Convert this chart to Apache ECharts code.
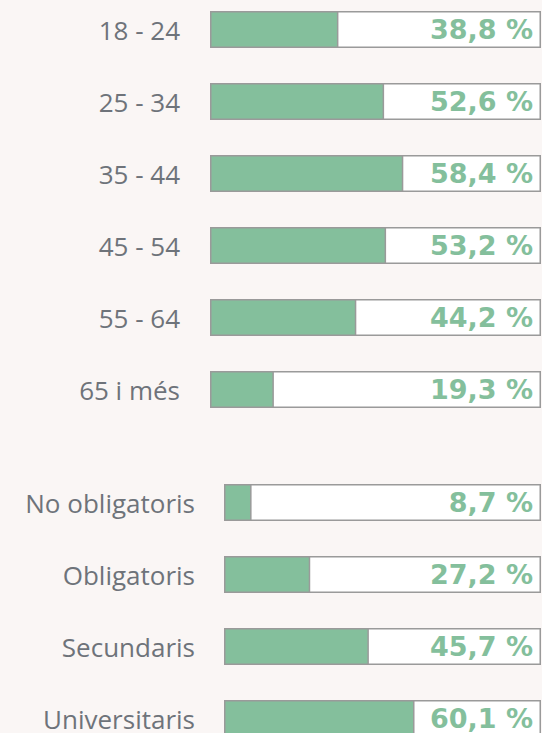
<!DOCTYPE html>
<html>
<head>
<meta charset="utf-8">
<script src="https://cdn.jsdelivr.net/npm/echarts@6/dist/echarts.min.js"></script>
<style>
  html, body { margin: 0; padding: 0; background: #faf6f5; }
  #chart { width: 542px; height: 733px; }
</style>
</head>
<body>
<div id="chart"></div>
<script>
var ageLabels = ['18 - 24', '25 - 34', '35 - 44', '45 - 54', '55 - 64', '65 i més'];
var ageValues = [38.8, 52.6, 58.4, 53.2, 44.2, 19.3];
var eduLabels = ['No obligatoris', 'Obligatoris', 'Secundaris', 'Universitaris'];
var eduValues = [8.7, 27.2, 45.7, 60.1];

(function() {
  var green = '#84bf9c';
  var border = '#9a9a9a';
  var labelGray = '#6e737a';
  var font = '"Open Sans", sans-serif';

  function fmt(v) { return v.toFixed(1).replace('.', ',') + ' %'; }

  function full(arr) { return arr.map(function() { return 100; }); }

  // boundaryGap false so the first and last rows sit on the grid edges
  function yAxis(idx, cats, margin) {
    return {
      type: 'category', gridIndex: idx, data: cats, inverse: true, boundaryGap: false,
      axisLine: { show: false }, axisTick: { show: false }, splitLine: { show: false },
      axisLabel: { color: labelGray, fontSize: 26, lineHeight: 26, fontFamily: font, margin: margin }
    };
  }
  function xAxis(idx) {
    return { type: 'value', gridIndex: idx, min: 0, max: 100, show: false };
  }
  function series(idx, values) {
    return [{
      type: 'bar', xAxisIndex: idx, yAxisIndex: idx, clip: false,
      data: full(values), barWidth: 37, barGap: '-100%', silent: true, z: 2,
      itemStyle: { color: '#ffffff', borderColor: border, borderWidth: 1.5 },
      label: {
        show: true, position: 'insideRight', distance: 8,
        color: green, fontSize: 27, fontWeight: 'bold', fontFamily: '"DejaVu Sans", sans-serif',
        formatter: function(p) { return fmt(values[p.dataIndex]); }
      }
    }, {
      type: 'bar', xAxisIndex: idx, yAxisIndex: idx, clip: false,
      data: values, barWidth: 37, barGap: '-100%', z: 3,
      itemStyle: { color: green, borderColor: border, borderWidth: 1.5 }
    }];
  }

  var chart = echarts.init(document.getElementById('chart'), null, { renderer: 'svg' });
  chart.setOption({
    animation: false,
    backgroundColor: '#faf6f5',
    grid: [
      { left: 210, width: 331, top: 29.5, height: 360 },
      { left: 224, width: 317, top: 502.5, height: 216 }
    ],
    xAxis: [xAxis(0), xAxis(1)],
    yAxis: [yAxis(0, ageLabels, 30), yAxis(1, eduLabels, 29)],
    series: series(0, ageValues).concat(series(1, eduValues))
  });

  window.addEventListener('resize', function() { chart.resize(); });
})();
</script>
</body>
</html>
